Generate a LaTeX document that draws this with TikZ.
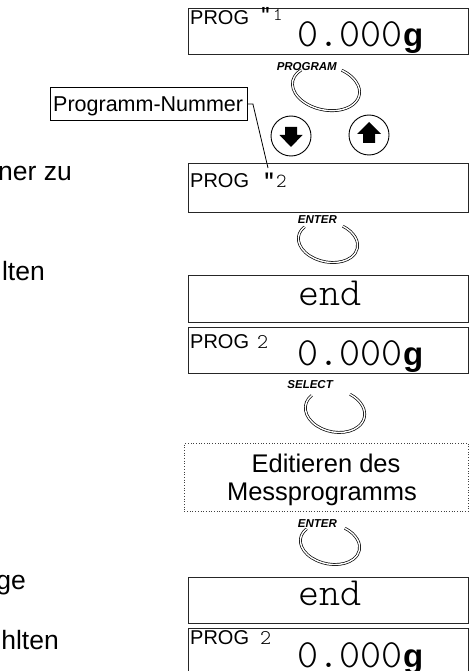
\documentclass[tikz,border=0pt]{standalone}
\usepackage{fontspec}
\setmainfont{Liberation Sans}
\newfontfamily\lcdfont[Extension=.otf]{lmmonolt10-regular}
\newfontfamily\quotefont{Liberation Mono}
\newcommand\fpx[1]{\fontsize{#1}{#1}\selectfont}
\newcommand\lcdquote{{\quotefont\bfseries"}}
\begin{document}
\begin{tikzpicture}[x=1pt,y=-1pt,
  disp/.style={draw=black!85,line width=1.3pt,anchor=north west,minimum width=280,minimum height=46,inner sep=0},
  ring/.style={draw=black,double=white,double distance=1.4pt,line width=0.7pt},
  keylab/.style={font=\fpx{11.5}\bfseries\itshape,inner sep=0,anchor=base east},
  prog/.style={font=\fpx{20},inner sep=0,anchor=base west},
  smalldig/.style={font=\fpx{21}\lcdfont,inner sep=0,anchor=base west},
  bigdig/.style={font=\fpx{40}\lcdfont,inner sep=0,anchor=base west},
  gram/.style={font=\fpx{33}\bfseries,inner sep=0,anchor=base west},
  bigend/.style={font=\fpx{40}\lcdfont,inner sep=0,anchor=base},
  side/.style={font=\fpx{26.5},inner sep=0,anchor=base east},
  arrowkey/.style={draw=black,line width=0.9pt,circle,minimum size=40,inner sep=0}]
\clip (0,0) rectangle (469,671);
\fill[white] (0,0) rectangle (469,671);

% left side texts (cut off)
\node[side] (t1) at (72,180) {ner zu};
\node[side] (t2) at (45,280) {lten};
\node[side] (t3) at (26,589) {ge};
\node[side] (t4) at (59,649) {hlten};

% display 1
\node[disp] (d1) at (188,8) {};
\node[prog] (d1p) at (190,25) {PROG};
\node[smalldig,font=\fpx{18}\lcdfont] (d1n) at (260,21) {\lcdquote\kern2pt 1};
\node[bigdig] (d1r) at (297,47) {0.000};
\node[gram] (d1g) at (403,47) {g};

% PROGRAM key
\node[keylab] (kprog) at (337,71) {PROGRAM};
\begin{scope}[shift={(326,88)},rotate=-12]
  \draw[ring] (-145:34 and 22) arc[start angle=-145,end angle=-430,x radius=34,y radius=22];
\end{scope}

% arrow keys
\node[arrowkey] (kd) at (291,136) {};
\node[arrowkey] (ku) at (369,135) {};
\fill[shift={(kd.center)}] (-6,-9) -- (6,-9) -- (6,-1) -- (11.5,-1) -- (0,11) -- (-11.5,-1) -- (-6,-1) -- cycle;
\fill[shift={(ku.center)}] (-6,8) -- (6,8) -- (6,-1) -- (12,-1) -- (0,-13) -- (-12,-1) -- (-6,-1) -- cycle;

% Programm-Nummer label
\node[draw=black,line width=0.9pt,anchor=north west,minimum width=197,minimum height=33,inner sep=0] (pn) at (50,87) {};
\node[font=\fpx{21.5},inner sep=0,anchor=base west] (pnt) at (53,112) {Programm-Nummer};
\coordinate (lend) at (268,168);
\draw[line width=0.8pt] (pn.east) -- ++(5,0) -- (lend);

% display 2
\node[disp,minimum height=49] (d2) at (188,163) {};
\node[prog] (d2p) at (190,187) {PROG};
\node[smalldig,font=\fpx{20}\lcdfont] (d2n) at (263,187) {\lcdquote\kern1pt 2};

% ENTER key 1
\node[keylab] (kent1) at (337,223) {ENTER};
\begin{scope}[shift={(328,242)},rotate=-12]
  \draw[ring] (-150:30 and 20) arc[start angle=-150,end angle=-428,x radius=30,y radius=20];
\end{scope}

% display end 1
\node[disp,minimum height=47] (d3) at (188,275) {};
\node[bigend] (d3t) at (330,305) {end};

% display PROG 2
\node[disp] (d4) at (188,327) {};
\node[prog] (d4p) at (190,348) {PROG};
\node[smalldig] (d4n) at (257,348) {2};
\node[bigdig] (d4r) at (297,365) {0.000};
\node[gram] (d4g) at (403,365) {g};

% SELECT key
\node[keylab] (ksel) at (333,388) {SELECT};
\begin{scope}[shift={(335,411)},rotate=-12]
  \draw[ring] (-150:30 and 21) arc[start angle=-150,end angle=-428,x radius=30,y radius=21];
\end{scope}

% editing box
\node[draw=black!75,dotted,line width=0.7pt,anchor=north west,minimum width=284,minimum height=68,inner sep=0] (edit) at (184,443) {};
\node[font=\fpx{25.5},inner sep=0,anchor=base] (e1) at (326,472) {Editieren des};
\node[font=\fpx{25.5},inner sep=0,anchor=base] (e2) at (322,500) {Messprogramms};

% ENTER key 2
\node[keylab] (kent2) at (337,527) {ENTER};
\begin{scope}[shift={(330,544)},rotate=-12]
  \draw[ring] (-150:30 and 20) arc[start angle=-150,end angle=-428,x radius=30,y radius=20];
\end{scope}

% display end 2
\node[disp] (d5) at (188,577) {};
\node[bigend] (d5t) at (330,605) {end};

% last display (cut off)
\node[disp,minimum height=60] (d6) at (188,628) {};
\node[prog] (d6p) at (190,644) {PROG};
\node[smalldig] (d6n) at (260,644) {2};
\node[bigdig] (d6r) at (297,667) {0.000};
\node[gram] (d6g) at (403,667) {g};
\end{tikzpicture}
\end{document}
